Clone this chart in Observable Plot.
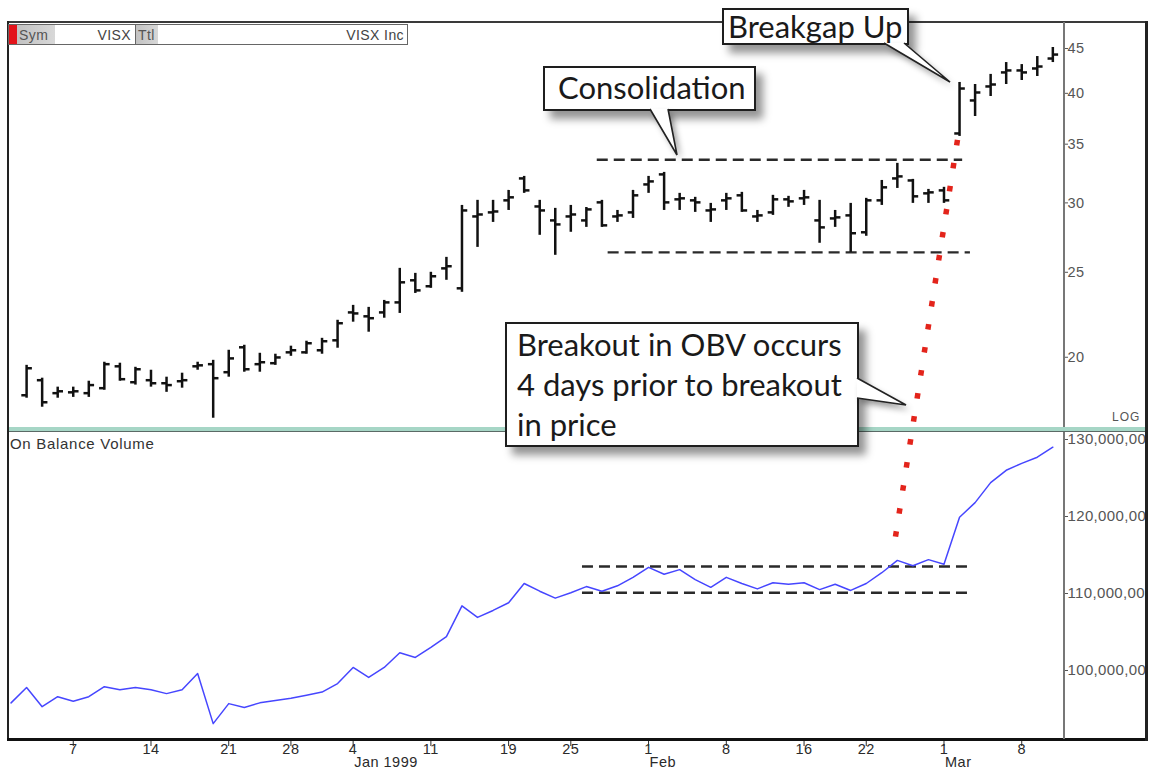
<!DOCTYPE html>
<html><head><meta charset="utf-8">
<script src="https://cdn.jsdelivr.net/npm/d3@7"></script>
<script src="https://cdn.jsdelivr.net/npm/@observablehq/plot@0.6"></script>
<style>
body{margin:0;background:#fff;}
#wrap{position:relative;width:1151px;height:772px;overflow:hidden;background:#fff;font-family:"Liberation Sans",Arial,sans-serif;}
#wrap > svg, #wrap > .abs{position:absolute;}
.line{position:absolute;}
.callout{position:absolute;box-sizing:border-box;background:#fff;border:2px solid #1e1e1e;box-shadow:7px 8px 8px rgba(0,0,0,0.42);font-family:Lato,"Open Sans",sans-serif;font-size:31px;color:#1a1a1a;white-space:nowrap;}
.hdr{position:absolute;box-sizing:border-box;border:1px solid #666;background:#fff;height:21px;font-size:14px;color:#444;letter-spacing:0.4px;}
.hdr span{position:absolute;top:2px;}
.ax text{letter-spacing:0.5px;}
.axo text{letter-spacing:0.35px;}
</style></head><body><div id="wrap"></div>
<script>
// ---- data ----
const days = [
 "1998-12-01","1998-12-02","1998-12-03","1998-12-04","1998-12-07","1998-12-08","1998-12-09","1998-12-10","1998-12-11",
 "1998-12-14","1998-12-15","1998-12-16","1998-12-17","1998-12-18","1998-12-21","1998-12-22","1998-12-23","1998-12-24",
 "1998-12-28","1998-12-29","1998-12-30","1998-12-31",
 "1999-01-04","1999-01-05","1999-01-06","1999-01-07","1999-01-08","1999-01-11","1999-01-12","1999-01-13","1999-01-14","1999-01-15",
 "1999-01-19","1999-01-20","1999-01-21","1999-01-22","1999-01-25","1999-01-26","1999-01-27","1999-01-28","1999-01-29",
 "1999-02-01","1999-02-02","1999-02-03","1999-02-04","1999-02-05","1999-02-08","1999-02-09","1999-02-10","1999-02-11","1999-02-12",
 "1999-02-16","1999-02-17","1999-02-18","1999-02-19","1999-02-22","1999-02-23","1999-02-24","1999-02-25","1999-02-26",
 "1999-03-01","1999-03-02","1999-03-03","1999-03-04","1999-03-05","1999-03-08","1999-03-09","1999-03-10"];
const high = [null,19.58,18.93,18.49,18.49,18.78,19.74,19.69,19.48,19.33,18.98,19.18,19.74,19.84,20.37,20.64,20.21,20.16,20.59,20.86,21.02,22.04,
 22.92,22.80,23.22,25.26,24.93,25.00,26.00,29.80,30.20,30.20,31.00,32.16,30.20,29.57,29.80,29.64,30.20,29.41,31.00,
 32.16,32.50,30.76,30.44,29.96,30.76,30.84,29.41,30.60,30.52,31.00,30.20,29.41,29.96,30.36,31.82,33.28,31.91,31.08,
 31.25,41.16,40.94,42.04,43.37,43.14,44.06,45.12];
const low = [null,17.96,17.54,17.96,18.00,18.00,18.34,18.78,18.59,18.49,18.24,18.44,19.33,17.04,18.98,19.23,19.23,19.58,20.05,20.16,20.16,20.48,
 21.93,21.36,22.16,22.44,23.65,23.97,24.48,23.72,26.69,28.50,29.41,30.76,27.55,26.14,27.77,28.13,28.13,28.50,28.80,
 30.76,29.41,29.41,29.26,28.50,29.41,29.26,28.50,29.03,29.65,29.80,26.98,28.13,26.34,27.48,29.80,31.16,29.96,29.96,
 29.96,35.72,37.64,39.67,40.94,41.37,41.81,43.37];
const open = [null,18.10,18.83,18.20,18.24,18.20,18.44,19.53,18.73,18.83,18.68,18.78,19.53,19.64,19.23,20.53,19.64,19.69,20.26,20.26,20.37,20.91,
 22.50,22.27,22.50,23.10,24.48,24.10,25.26,23.97,28.95,29.26,30.20,31.99,29.72,28.65,28.95,28.65,30.04,28.95,29.26,
 31.49,32.33,30.28,30.20,29.41,30.20,30.60,28.95,29.26,30.28,30.36,28.65,28.80,29.03,27.77,30.20,31.99,31.82,30.76,
 31.00,36.00,39.26,40.73,42.26,42.48,42.70,43.83];
const close = [null,19.43,17.77,18.29,18.29,18.59,19.64,18.88,19.38,18.68,18.59,18.83,19.58,18.93,19.94,19.38,19.74,19.99,20.37,20.75,20.86,21.87,
 22.44,22.16,23.10,24.35,23.84,24.74,25.40,29.41,29.10,29.33,30.44,31.00,29.41,28.35,29.10,29.49,28.28,29.03,30.60,
 31.74,30.04,30.36,30.04,29.49,30.36,29.41,29.03,30.28,30.12,30.44,28.13,28.88,27.70,30.20,31.25,32.16,30.52,30.84,
 30.20,40.51,40.09,40.94,42.48,42.26,42.92,44.29];
// On Balance Volume, millions of shares
const obv = [95.8,97.8,95.3,96.6,96.0,96.6,97.9,97.5,97.8,97.5,97.0,97.5,99.6,93.1,95.7,95.2,95.8,96.1,96.4,96.8,
 97.2,98.3,100.4,99.1,100.4,102.3,101.7,103.0,104.4,108.4,106.9,107.8,108.8,111.3,110.3,109.4,110.1,110.9,110.3,111.0,
 112.1,113.4,112.5,113.1,111.8,110.8,112.1,111.3,110.6,111.4,111.2,111.4,110.5,111.2,110.4,111.3,112.7,114.3,113.6,114.4,
 113.8,119.9,121.8,124.4,126.0,126.9,127.7,129.0];

const xTickDays = ["1998-12-07","1998-12-14","1998-12-21","1998-12-28","1999-01-04","1999-01-11","1999-01-19","1999-01-25",
 "1999-02-01","1999-02-08","1999-02-16","1999-02-22","1999-03-01","1999-03-08"];
const xTickLabels = ["7","14","21","28","4","11","19","25","1","8","16","22","1","8"];
const monthDays = ["1999-01-04","1999-02-01","1999-03-01"];
const monthLabels = ["Jan 1999","Feb","Mar"];
const priceTicks = [20,25,30,35,40,45];
const obvTicks = [100,110,120,130];
// the chart's OBV tick labels, as shown (cut short by the axis box)
const obvTickLabels = ["100,000,00","110,000,00","120,000,00","130,000,00"];

// consolidation range annotations (day index range, level)
const priceLevels = [{x1:37.7,x2:61.2,v:33.6},{x1:38.4,x2:61.7,v:26.34}];
const obvLevels = [{x1:36.75,x2:61.7,v:113.5},{x1:36.75,x2:61.7,v:110.1}];
const breakLine = {fromDay:60.9, fromPrice:35.35, toDay:56.75, toObv:115.2};

// ---- build ----
const rows = days.map((d,i)=>({i, date:d, o:open[i], h:high[i], l:low[i], c:close[i], obv:obv[i]}));
const bars = rows.filter(r=>r.h!=null);
const idx = d => days.indexOf(d);
const tickMap = new Map(xTickDays.map((d,k)=>[idx(d), xTickLabels[k]]));
const monthMap = new Map(monthDays.map((d,k)=>[idx(d), monthLabels[k]]));
const obvLabelMap = new Map(obvTicks.map((t,k)=>[t, obvTickLabels[k]]));
const xDomain = [-0.164, 67.75];
const ff = "'Liberation Sans', Arial, sans-serif";

const topPlot = Plot.plot({
  width:1151, height:432, marginLeft:8, marginRight:87, marginTop:22, marginBottom:2,
  style:{background:"transparent", overflow:"visible", fontFamily:ff},
  x:{type:"linear", domain:xDomain, axis:null},
  y:{type:"log", domain:[16.5,48.18], axis:null},
  marks:[
    Plot.ruleY(priceLevels,{y:"v", x1:"x1", x2:"x2", stroke:"#2a2a2a", strokeWidth:2.4, strokeDasharray:"11,6"}),
    Plot.ruleX(bars,{x:"i", y1:"l", y2:"h", stroke:"#111", strokeWidth:2.5}),
    Plot.link(bars,{x1:d=>d.i-0.34, x2:"i", y1:"o", y2:"o", stroke:"#111", strokeWidth:2.5}),
    Plot.link(bars,{x1:"i", x2:d=>d.i+0.34, y1:"c", y2:"c", stroke:"#111", strokeWidth:2.5}),
    Plot.axisY(priceTicks,{anchor:"right", tickSize:3, tickPadding:0, fontSize:14.5, color:"#555", className:"ax"})
  ]
});

const botPlot = Plot.plot({
  width:1151, height:342, marginLeft:8, marginRight:87, marginTop:2, marginBottom:34,
  style:{background:"transparent", overflow:"visible", fontFamily:ff},
  x:{type:"linear", domain:xDomain, axis:null},
  y:{domain:[91.17,130.91], axis:null},
  marks:[
    Plot.ruleY(obvLevels,{y:"v", x1:"x1", x2:"x2", stroke:"#2a2a2a", strokeWidth:2.4, strokeDasharray:"11,6"}),
    Plot.lineY(rows,{x:"i", y:"obv", stroke:"#4646ff", strokeWidth:1.5}),
    Plot.axisY(obvTicks,{anchor:"right", tickSize:3, tickPadding:0, fontSize:15, color:"#555", className:"axo",
      tickFormat:d=>obvLabelMap.get(d)}),
    Plot.axisX([...tickMap.keys()],{anchor:"bottom", tickSize:8, tickPadding:-3, fontSize:14.5, color:"#2a2a2a", className:"ax",
      tickFormat:d=>tickMap.get(d)}),
    Plot.axisX([...monthMap.keys()],{anchor:"bottom", tickSize:0, tickPadding:18, fontSize:14.5, color:"#2a2a2a", className:"ax",
      textAnchor:"start", dx:1, tickFormat:d=>monthMap.get(d)})
  ]
});

const wrap = document.getElementById("wrap");
topPlot.style.left="0px"; topPlot.style.top="0px";
botPlot.style.left="0px"; botPlot.style.top="430px";
wrap.appendChild(topPlot); wrap.appendChild(botPlot);

function div(css, cls, html){const e=document.createElement("div"); e.className=cls||"line"; e.style.cssText=css; if(html!=null) e.innerHTML=html; wrap.appendChild(e); return e;}
// frame
div("left:1147px;top:0;width:4px;height:772px;background:#fff;");
div("left:7px;top:21px;width:1141px;height:2px;background:#3a3a3a;");
div("left:7px;top:21px;width:2px;height:720px;background:#222;");
div("left:7px;top:738px;width:1141px;height:3px;background:#111;");
div("left:1145px;top:21px;width:3px;height:720px;background:#222;");
div("left:1063px;top:22px;width:2px;height:717px;background:#777;");
// panel separator
div("left:9px;top:427px;width:1136px;height:4px;background:#a6d6c6;");
div("left:9px;top:431px;width:1136px;height:1px;background:#5b6a66;");
// labels
div("left:1112px;top:410px;font-size:12px;color:#555;letter-spacing:1px;", "abs", "LOG");
div("left:10px;top:435px;font-size:15px;color:#333;letter-spacing:0.7px;", "abs", "On Balance Volume");
// header
div("left:8px;top:24px;width:128px;", "hdr",
  '<span style="left:0;top:0;width:8px;height:19px;background:#e3131a"></span>'+
  '<span style="left:8px;top:0;width:38px;height:19px;background:linear-gradient(90deg,#c2c2c2,#d8d8d8)"></span>'+
  '<span style="left:10px;color:#555">Sym</span><span style="right:4px">VISX</span>');
div("left:135px;top:24px;width:273px;", "hdr",
  '<span style="left:0;top:0;width:22px;height:19px;background:linear-gradient(90deg,#c2c2c2,#d8d8d8)"></span>'+
  '<span style="left:2px;color:#555">Ttl</span><span style="right:3px">VISX Inc</span>');

// red dotted line (anchored via the plots' scales)
const ns="http://www.w3.org/2000/svg";
function svgLayer(){const s=document.createElementNS(ns,"svg"); s.setAttribute("width",1151); s.setAttribute("height",772); s.style.cssText="position:absolute;left:0;top:0;overflow:visible"; wrap.appendChild(s); return s;}
const sx=topPlot.scale("x"), sy=topPlot.scale("y"), by=botPlot.scale("y");
const p1=[sx.apply(breakLine.fromDay), sy.apply(breakLine.fromPrice)];
const p2=[sx.apply(breakLine.toDay), 430+by.apply(breakLine.toObv)];
const L1=svgLayer();
const rl=document.createElementNS(ns,"line");
rl.setAttribute("x1",p1[0]);rl.setAttribute("y1",p1[1]);rl.setAttribute("x2",p2[0]);rl.setAttribute("y2",p2[1]);
rl.setAttribute("stroke","#e3241b");rl.setAttribute("stroke-width",5.5);rl.setAttribute("stroke-dasharray","5.5 17.8");
L1.appendChild(rl);

// callouts
div("left:722px;top:8px;width:187px;height:37px;line-height:33px;padding-left:4px;","callout","Breakgap Up");
div("left:543px;top:66px;width:213px;height:45px;line-height:38px;padding-left:13px;","callout","Consolidation");
div("left:505px;top:322px;width:354px;height:125px;line-height:40px;padding-left:10px;","callout",
  "Breakout in OBV occurs<br>4 days prior to breakout<br>in price");
const L2=svgLayer();
const pointers=[
  {base:[[884,43],[904,43]], tip:[950,82]},
  {base:[[650,109],[668,109]], tip:[677,155]},
  {base:[[857,378],[857,398]], tip:[906,405]}
];
for(const p of pointers){
  const poly=document.createElementNS(ns,"polygon");
  poly.setAttribute("points",[p.base[0],p.tip,p.base[1]].map(q=>q.join(",")).join(" "));
  poly.setAttribute("fill","#fff"); poly.setAttribute("stroke","none");
  poly.style.filter="drop-shadow(4px 5px 3px rgba(0,0,0,0.4))";
  L2.appendChild(poly);
  const pl=document.createElementNS(ns,"polyline");
  pl.setAttribute("points",[p.base[0],p.tip,p.base[1]].map(q=>q.join(",")).join(" "));
  pl.setAttribute("fill","none"); pl.setAttribute("stroke","#222"); pl.setAttribute("stroke-width",1.6);
  L2.appendChild(pl);
}
</script></body></html>
